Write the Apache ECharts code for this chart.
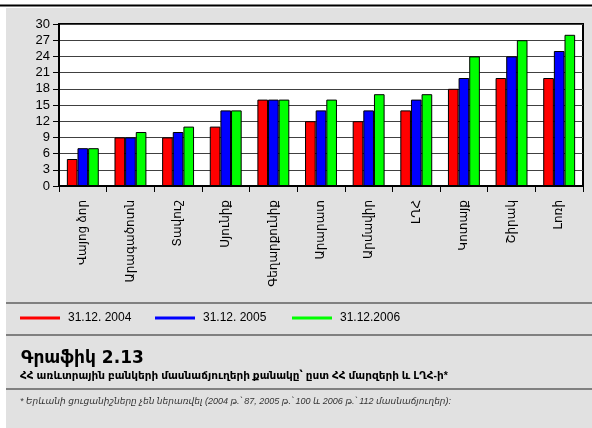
<!DOCTYPE html>
<html><head><meta charset="utf-8">
<script src="https://cdn.jsdelivr.net/npm/echarts@6/dist/echarts.min.js"></script>
<style>html,body{margin:0;padding:0;background:#fff}#c{width:592px;height:428px}</style>
</head><body><div id="c"></div>
<script>
const categories = ['Վայոց ձոր','Արագածոտն','Տավուշ','Սյունիք','Գեղարքունիք','Արարատ','Արմավիր','ԼՂՀ','Կոտայք','Շիրակ','Լոռի'];
const seriesNames = ['31.12. 2004','31.12. 2005','31.12.2006'];
const v2004 = [5, 9, 9, 11, 16, 12, 12, 14, 18, 20, 20];
const v2005 = [7, 9, 10, 14, 16, 14, 14, 16, 20, 24, 25];
const v2006 = [7, 10, 11, 14, 16, 16, 17, 17, 24, 27, 28];
const yTicks = [0,3,6,9,12,15,18,21,24,27,30];
const titleText = 'Գրաֆիկ 2.13';
const subtitleText = 'ՀՀ առևտրային բանկերի մասնաճյուղերի քանակը՝ ըստ ՀՀ մարզերի և ԼՂՀ-ի*';
const noteText = '* Երևանի ցուցանիշները չեն ներառվել (2004 թ.՝ 87, 2005 թ.՝ 100 և 2006 թ.՝ 112 մասնաճյուղեր):';

const colors = ['#ff0000','#0000ff','#00ff00'];
const font = '"Liberation Sans", "DejaVu Sans", Arial, sans-serif';
const chart = echarts.init(document.getElementById('c'));
const mk = (name, data, i) => ({
  name, type: 'bar', data,
  barGap: '0%', barCategoryGap: '33%',
  itemStyle: { color: colors[i], borderColor: '#000', borderWidth: 1 },
  emphasis: { disabled: true }
});
const legendAt = (i, left) => ({
  data: [seriesNames[i]], left, top: 312, icon: 'rect', padding: 0,
  itemWidth: 40, itemHeight: 3, itemGap: 0,
  itemStyle: { borderWidth: 0 },
  textStyle: { fontFamily: font, fontSize: 12, color: '#000', padding: [0,0,0,3] }
});
chart.setOption({
  animation: false,
  backgroundColor: '#e1e1e1',
  textStyle: { fontFamily: font },
  grid: { left: 59, right: 9, top: 24, bottom: 242, show: true, backgroundColor: '#fff', borderColor: '#000', borderWidth: 2 },
  legend: [legendAt(0, 20), legendAt(1, 155), legendAt(2, 292)],
  xAxis: {
    type: 'category', data: categories,
    axisLine: { lineStyle: { color: '#000', width: 2 } },
    axisTick: { show: true, length: 6, lineStyle: { color: '#000' } },
    axisLabel: { rotate: 90, margin: 14, fontSize: 12, color: '#000', fontFamily: font }
  },
  yAxis: {
    type: 'value', min: 0, max: 30, interval: 3,
    axisLine: { show: true, lineStyle: { color: '#000', width: 2 } },
    axisTick: { show: true, length: 6, lineStyle: { color: '#000' } },
    axisLabel: { fontSize: 13, color: '#000', margin: 9, fontFamily: font,
      formatter: (v) => yTicks.includes(v) ? String(v) : '' },
    splitLine: { show: true, lineStyle: { color: '#404040', width: 1 } }
  },
  series: [mk(seriesNames[0], v2004, 0), mk(seriesNames[1], v2005, 1), mk(seriesNames[2], v2006, 2)],
  graphic: [
    { type: 'rect', shape: { x: 0, y: 0, width: 6, height: 428 }, style: { fill: '#fff' }, z: 100 },
    { type: 'rect', shape: { x: 0, y: 0, width: 592, height: 8 }, style: { fill: '#fff' }, z: 100 },
    { type: 'rect', shape: { x: 0, y: 4.5, width: 592, height: 2 }, style: { fill: '#000' }, z: 101 },
    { type: 'rect', shape: { x: 6, y: 302, width: 586, height: 2 }, style: { fill: '#808080' }, z: 100 },
    { type: 'rect', shape: { x: 6, y: 334, width: 586, height: 2 }, style: { fill: '#808080' }, z: 100 },
    { type: 'rect', shape: { x: 6, y: 388, width: 586, height: 2 }, style: { fill: '#808080' }, z: 100 },
    { type: 'text', left: 21, top: 350, z: 100, style: { text: titleText, fill: '#000', font: 'bold 17px "DejaVu Sans", sans-serif' } },
    { type: 'text', left: 20, top: 371, z: 100, style: { text: subtitleText, fill: '#000', font: 'bold 10.5px ' + font } },
    { type: 'text', left: 20, top: 397, z: 100, style: { text: noteText, fill: '#333', font: 'italic 9px ' + font } }
  ]
});
</script></body></html>
